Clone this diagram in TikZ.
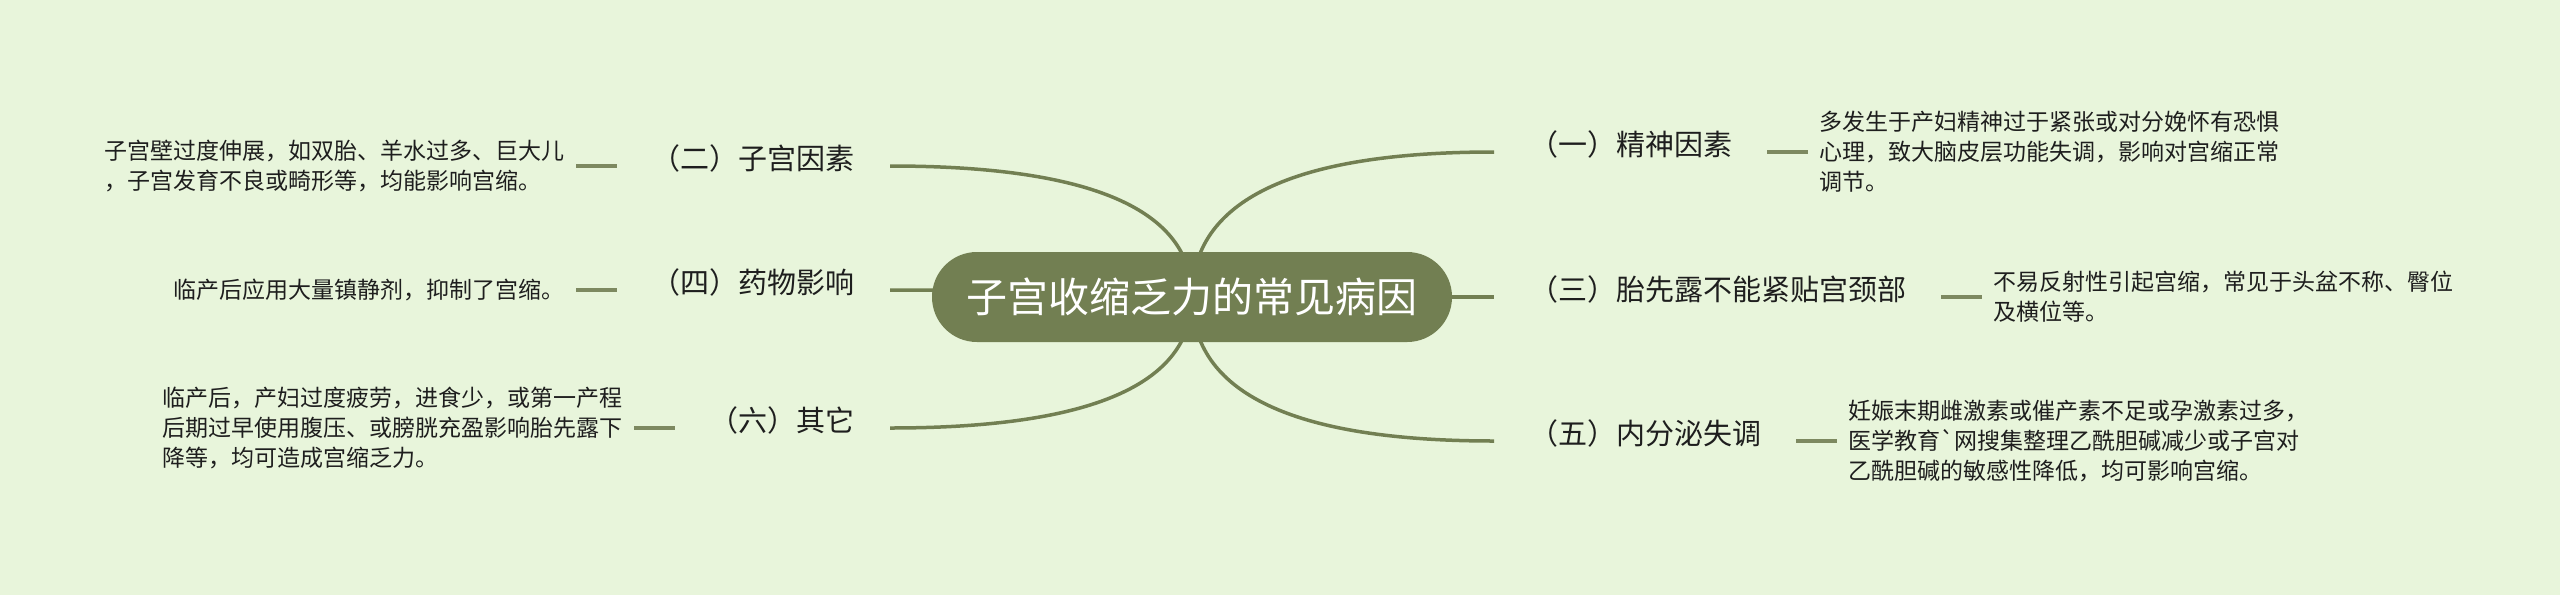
\documentclass[tikz,border=0pt]{standalone}
\usepackage{fontspec}
\setmainfont{Noto Sans CJK SC}
\newfontfamily\rawcjk{Noto Sans CJK SC}
\usetikzlibrary{calc}
\definecolor{bgc}{HTML}{E8F5DB}
\definecolor{rootgreen}{HTML}{727F52}
\definecolor{txt}{HTML}{1E1E1E}
\pgfdeclarelayer{back}
\pgfdeclarelayer{wires}
\pgfsetlayers{back,wires,main}
\tikzset{
  root/.style={fill=rootgreen, text=white, rounded corners=44.9pt, minimum width=520pt, minimum height=90pt, inner sep=0pt, font=\fontsize{41}{48}\selectfont},
  topic/.style={inner xsep=35pt, inner ysep=0pt, text=txt, text height=0.82em, text depth=0.08em, font=\fontsize{29}{34}\selectfont},
  desc/.style={inner xsep=11pt, inner ysep=0pt, text=txt, align=left, font=\fontsize{23}{30}\selectfont},
  branch/.style={draw=rootgreen, line width=3.5pt},
  link/.style={draw=rootgreen!92!white, line width=4.5pt},
}
\begin{document}
\begin{tikzpicture}[x=1pt,y=-1pt]
\useasboundingbox (0,0) rectangle (2560,595);
\begin{pgfonlayer}{back}
\fill[bgc] (0,0) rectangle (2560,595);
\end{pgfonlayer}

\node[root] (root) at (1192,297) {子宫收缩乏力的常见病因};

\node[topic, anchor=west] (t1) at (1494,152) {（一）精神因素};
\node[topic, anchor=west] (t3) at (1494,297) {（三）胎先露不能紧贴宫颈部};
\node[topic, anchor=west] (t5) at (1494,441) {（五）内分泌失调};
\node[topic, anchor=east] (t2) at (890,166) {（二）子宫因素};
\node[topic, anchor=east] (t4) at (890,290) {（四）药物影响};
\node[topic, anchor=east] (t6) at (890,428) {（六）其它};

\node[desc, anchor=west] (d1) at ([xshift=41pt]t1.east) {多发生于产妇精神过于紧张或对分娩怀有恐惧\\心理，致大脑皮层功能失调，影响对宫缩正常\\调节。};
\node[desc, anchor=west] (d3) at ([xshift=41pt]t3.east) {不易反射性引起宫缩，常见于头盆不称、臀位\\及横位等。};
\node[desc, anchor=west] (d5) at ([xshift=41pt]t5.east) {妊娠末期雌激素或催产素不足或孕激素过多，\\医学教育{\rawcjk `}网搜集整理乙酰胆碱减少或子宫对\\乙酰胆碱的敏感性降低，均可影响宫缩。};
\node[desc, anchor=east] (d2) at ([xshift=-41pt]t2.west) {子宫壁过度伸展，如双胎、羊水过多、巨大儿\\，子宫发育不良或畸形等，均能影响宫缩。};
\node[desc, anchor=east] (d4) at ([xshift=-41pt]t4.west) {临产后应用大量镇静剂，抑制了宫缩。};
\node[desc, anchor=east] (d6) at ([xshift=-41pt]t6.west) {临产后，产妇过度疲劳，进食少，或第一产程\\后期过早使用腹压、或膀胱充盈影响胎先露下\\降等，均可造成宫缩乏力。};

\begin{pgfonlayer}{wires}
\foreach \t in {t1,t3,t5}
  \draw[branch] (root.center) .. controls ($(root.center)!0.6667!(root.center |- \t.west)$) and ($(\t.west)!0.6667!(root.center |- \t.west)$) .. (\t.west);
\foreach \t in {t2,t4,t6}
  \draw[branch] (root.center) .. controls ($(root.center)!0.6667!(root.center |- \t.east)$) and ($(\t.east)!0.6667!(root.center |- \t.east)$) .. (\t.east);
\end{pgfonlayer}

\draw[link] (t1.east) -- (d1.west);
\draw[link] (t3.east) -- (d3.west);
\draw[link] (t5.east) -- (d5.west);
\draw[link] (t2.west) -- (d2.east);
\draw[link] (t4.west) -- (d4.east);
\draw[link] (t6.west) -- (d6.east);
\end{tikzpicture}
\end{document}
